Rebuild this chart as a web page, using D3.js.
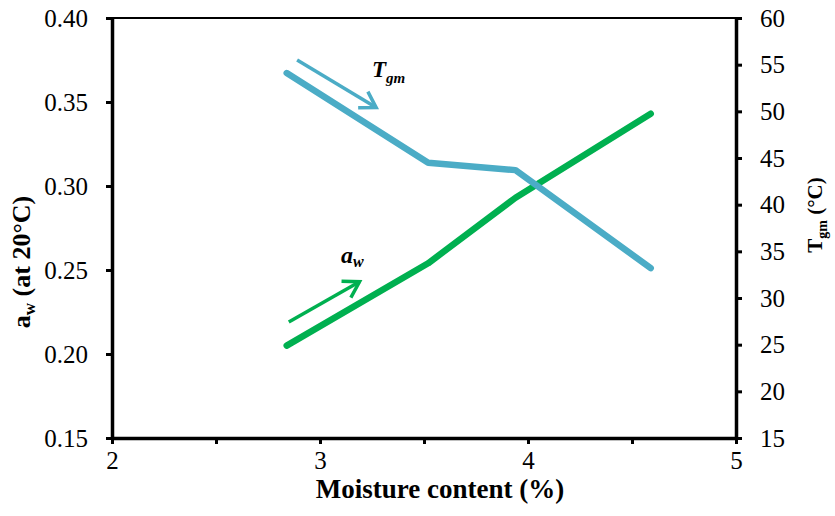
<!DOCTYPE html>
<html>
<head>
<meta charset="utf-8">
<script src="https://cdn.jsdelivr.net/npm/d3@7"></script>
<style>
  body { margin: 0; background: #fff; }
  svg text { font-family: "Times New Roman", "Liberation Serif", "DejaVu Serif", serif; fill: #000; }
</style>
</head>
<body>
<script>
// data
var moisture = [2.84, 3.52, 3.94, 4.59];
var awValues = [0.205, 0.254, 0.293, 0.343];
var tgmValues = [54.1, 44.5, 43.7, 33.2];

var xTicks = [2, 2.5, 3, 3.5, 4, 4.5, 5];
var awTicks = [0.15, 0.20, 0.25, 0.30, 0.35, 0.40];
var tgmTicks = [15, 20, 25, 30, 35, 40, 45, 50, 55, 60];

// annotation arrows, in data units
var tgmArrow = [[2.89, 55.5], [3.27, 50.4]];
var awArrow = [[2.85, 0.219], [3.19, 0.243]];

var W = 835, H = 516;
var mLeft = 112, mRight = 736, mTop = 18, mBottom = 438;

var svg = d3.select("body").append("svg")
    .attr("width", W)
    .attr("height", H);

var x = d3.scaleLinear().domain([2, 5]).range([mLeft, mRight]);
var yL = d3.scaleLinear().domain([0.15, 0.40]).range([mBottom, mTop]);
var yR = d3.scaleLinear().domain([15, 60]).range([mBottom, mTop]);

var blue = "#4bacc6", green = "#00b050";
var serif = "Times New Roman, Liberation Serif, DejaVu Serif, serif";

// top border
svg.append("line")
    .attr("x1", mLeft).attr("x2", mRight)
    .attr("y1", mTop).attr("y2", mTop)
    .attr("stroke", "#000").attr("stroke-width", 2);

function styleAxis(g) {
    g.attr("font-family", serif).attr("font-size", 25);
    g.select(".domain").attr("stroke-width", 3.5);
    g.selectAll(".tick line").attr("stroke-width", 3);
    g.selectAll(".tick text").attr("font-family", serif).style("font-size", "25px");
}

svg.append("g")
    .attr("transform", "translate(" + mLeft + ",0)")
    .call(d3.axisLeft(yL).tickValues(awTicks).tickFormat(d3.format(".2f")).tickSize(6).tickSizeOuter(0).tickPadding(18))
    .call(styleAxis);

svg.append("g")
    .attr("transform", "translate(" + mRight + ",0)")
    .call(d3.axisRight(yR).tickValues(tgmTicks).tickFormat(d3.format("d")).tickSize(6).tickSizeOuter(0).tickPadding(18))
    .call(styleAxis);

svg.append("g")
    .attr("transform", "translate(0," + mBottom + ")")
    .call(d3.axisBottom(x).tickValues(xTicks).tickFormat(function(d) { return d % 1 === 0 ? d : ""; }).tickSize(6).tickSizeOuter(0).tickPadding(7))
    .call(styleAxis);

// axis titles
svg.append("text")
    .attr("x", 440).attr("y", 498)
    .attr("text-anchor", "middle")
    .attr("font-family", serif)
    .style("font-size", "27px").style("font-weight", "bold")
    .text("Moisture content (%)");

var lt = svg.append("text")
    .attr("transform", "translate(30,262) rotate(-90)")
    .attr("text-anchor", "middle")
    .attr("font-family", serif)
    .style("font-size", "26px").style("font-weight", "bold");
lt.append("tspan").text("a");
lt.append("tspan").attr("dy", 5).style("font-size", "17px").text("w");
lt.append("tspan").attr("dy", -5).text(" (at 20°C)");

var rt = svg.append("text")
    .attr("transform", "translate(822,215) rotate(-90)")
    .attr("text-anchor", "middle")
    .attr("font-family", serif)
    .style("font-size", "21px").style("font-weight", "bold");
rt.append("tspan").text("T");
rt.append("tspan").attr("dy", 5).style("font-size", "14px").text("gm");
rt.append("tspan").attr("dy", -5).text(" (°C)");

// series lines
var awLine = d3.line().x(function(d, i) { return x(moisture[i]); }).y(function(d) { return yL(d); });
var tgmLine = d3.line().x(function(d, i) { return x(moisture[i]); }).y(function(d) { return yR(d); });

svg.append("path").datum(awValues)
    .attr("d", awLine)
    .attr("fill", "none").attr("stroke", green).attr("stroke-width", 6.5)
    .attr("stroke-linecap", "round").attr("stroke-linejoin", "round");

svg.append("path").datum(tgmValues)
    .attr("d", tgmLine)
    .attr("fill", "none").attr("stroke", blue).attr("stroke-width", 6.5)
    .attr("stroke-linecap", "round").attr("stroke-linejoin", "round");

// arrows
function arrow(pts, yScale, color) {
    var x1 = x(pts[0][0]), y1 = yScale(pts[0][1]);
    var x2 = x(pts[1][0]), y2 = yScale(pts[1][1]);
    var a = Math.atan2(y2 - y1, x2 - x1), L = 18, s = 0.55;
    svg.append("line")
        .attr("x1", x1).attr("y1", y1).attr("x2", x2).attr("y2", y2)
        .attr("stroke", color).attr("stroke-width", 3.5);
    svg.append("path")
        .attr("d", "M" + (x2 - L * Math.cos(a - s)) + "," + (y2 - L * Math.sin(a - s)) +
                   "L" + x2 + "," + y2 +
                   "L" + (x2 - L * Math.cos(a + s)) + "," + (y2 - L * Math.sin(a + s)))
        .attr("fill", "none").attr("stroke", color).attr("stroke-width", 3.5);
}
arrow(tgmArrow, yR, blue);
arrow(awArrow, yL, green);

// annotation labels
var tl = svg.append("text")
    .attr("x", 372).attr("y", 77)
    .attr("font-family", serif)
    .style("font-size", "23px").style("font-weight", "bold").style("font-style", "italic");
tl.append("tspan").text("T");
tl.append("tspan").attr("dy", 6).style("font-size", "15px").text("gm");

var al = svg.append("text")
    .attr("x", 341).attr("y", 263)
    .attr("font-family", serif)
    .style("font-size", "24px").style("font-weight", "bold").style("font-style", "italic");
al.append("tspan").text("a");
al.append("tspan").attr("dy", 4).style("font-size", "16px").text("w");
</script>
</body>
</html>
